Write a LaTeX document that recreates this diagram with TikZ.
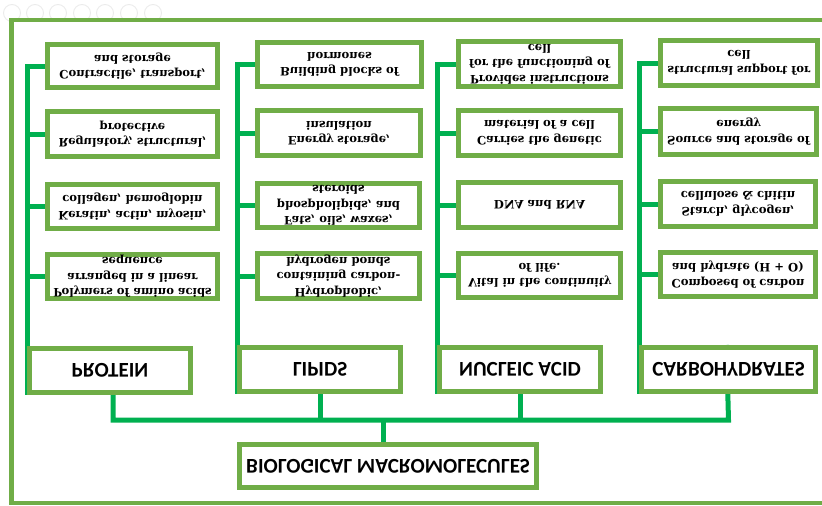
\documentclass[tikz,border=0pt]{standalone}
\usepackage{fontspec}
\setmainfont{DejaVu Serif}
\newfontfamily\catfont{Carlito}
\usetikzlibrary{backgrounds}
\definecolor{boxgreen}{HTML}{70AD47}
\definecolor{linegreen}{HTML}{00B050}
\definecolor{icongray}{HTML}{EBEBEB}
\tikzset{
  leaf/.style={draw=boxgreen, line width=5pt, fill=white, inner sep=0pt},
  leaftext/.style={align=center, font=\bfseries\fontsize{11.6}{15.5}\selectfont, inner sep=0pt},
  cattext/.style={font=\catfont\bfseries\fontsize{21}{24}\selectfont, inner sep=0pt},
  conn/.style={draw=linegreen, line width=5pt},
  frame/.style={draw=boxgreen, line width=4.5pt},
  icon/.style={draw=icongray, line width=0.9pt, circle, minimum size=17pt, inner sep=0pt}
}
\newcommand{\mybox}[6]{%
  \node[leaf, minimum width={(#4-#2-5)*1pt}, minimum height={(#5-#3-5)*1pt}]
    (#1) at ({(#2+#4)/2},{(#3+#5)/2}) {};
  \node[leaftext] (#1t) at (#1.center) {#6};}
\newcommand{\catbox}[7]{%
  \node[leaf, minimum width={(#4-#2-5)*1pt}, minimum height={(#5-#3-5)*1pt}]
    (#1) at ({(#2+#4)/2},{(#3+#5)/2}) {};
  \node[cattext] (#1t) at ([xshift=#7]#1.center) {#6};}
\begin{document}
\begin{tikzpicture}[x=1pt, y=1pt, yscale=-1, every node/.append style={transform shape}]
\useasboundingbox (0,0) rectangle (822,506);
% toolbar circles
\foreach \i/\xx in {1/12,2/35,3/58,4/82,5/105,6/129,7/153}{
  \node[icon] (ic\i) at (\xx,13) {};
}
% outer frame
\draw[frame] (830,20) -- (11.5,20) -- (11.5,503) -- (830,503);
% leaf boxes
\mybox{p1}{45}{42}{220}{90}{Contractile, transport,\\and storage}
\mybox{p2}{45}{109}{220}{159}{Regulatory, structural,\\protective}
\mybox{p3}{45}{182}{220}{231}{Keratin, actin, myosin,\\collagen, hemoglobin}
\mybox{p4}{45}{252}{220}{301}{Polymers of amino acids\\arranged in a linear\\sequence}
\mybox{l1}{255}{40}{424}{89}{Building blocks of\\hormones}
\mybox{l2}{255}{108}{423}{158}{Energy storage,\\insulation}
\mybox{l3}{255}{181}{422}{230}{Fats, oils, waxes,\\phospholipids, and\\steroids}
\mybox{l4}{255}{251}{422}{301}{Hydrophobic,\\containing carbon-\\hydrogen bonds}
\mybox{n1}{456}{39}{623}{89}{Provides instructions\\for the functioning of\\cell}
\mybox{n2}{456}{108}{623}{158}{Carries the genetic\\material of a cell}
\mybox{n3}{456}{180}{623}{230}{DNA and RNA}
\mybox{n4}{456}{251}{623}{300}{Vital in the continuity\\of life.}
\mybox{c1}{658}{38}{820}{88}{structural support for\\cell}
\mybox{c2}{658}{106}{819}{157}{Source and storage of\\energy}
\mybox{c3}{658}{179}{818}{229}{Starch, glycogen,\\cellulose \& chitin}
\mybox{c4}{658}{250}{818}{299}{Composed of carbon\\and hydrate (H + O)}
% category boxes
\catbox{pc}{27}{346}{193}{395}{PROTEIN}{0pt}
\catbox{lc}{237}{345}{403}{394}{LIPIDS}{0pt}
\catbox{nc}{437}{345}{603}{394}{NUCLEIC ACID}{0pt}
\catbox{cc}{639}{345}{818}{394}{CARBOHYDRATES}{0pt}
\catbox{bio}{237}{442}{539}{490}{BIOLOGICAL MACROMOLECULES}{0pt}
\coordinate (bus) at (0,420);
\begin{scope}[on background layer]
  \foreach \c in {p,l,n,c}{
    \draw[conn] (\c1.west) -| (\c c.north west);
    \foreach \k in {2,3,4}{
      \draw[conn] (\c\k.west) -- (\c\k.west -| \c c.north west);
    }
  }
  \draw[conn] ([xshift=3pt]pc.south) |- (bus -| cc.south) -- ([xshift=-2pt]cc.south);
  \draw[conn] (lc.south) -- (lc.south |- bus);
  \draw[conn] (nc.south) -- (nc.south |- bus);
  \draw[conn] ([xshift=-5pt]bio.north) -- ([xshift=-5pt]bio.north |- bus);
\end{scope}
\end{tikzpicture}
\end{document}
